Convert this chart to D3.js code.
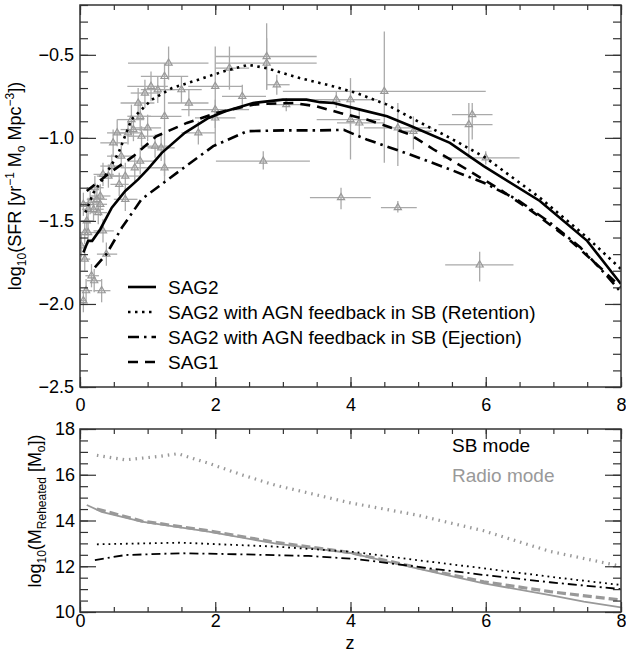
<!DOCTYPE html>
<html>
<head>
<meta charset="utf-8">
<script src="https://cdn.jsdelivr.net/npm/d3@7"></script>
<style>
  body { margin: 0; background: #fff; }
  text { font-family: "Liberation Sans", Arial, Helvetica, sans-serif; }
</style>
</head>
<body>
<div class="view"></div>
<script>
// model curves, top panel: [z, log10 SFR]
var sag2 = [[0.05,-1.69],[0.12,-1.62],[0.18,-1.62],[0.3,-1.55],[0.47,-1.42],[0.67,-1.32],[0.86,-1.25],[1.0,-1.19],[1.21,-1.09],[1.55,-0.97],[1.9,-0.88],[2.15,-0.84],[2.56,-0.79],[3.0,-0.77],[3.35,-0.77],[3.55,-0.785],[3.75,-0.79],[4.14,-0.83],[4.54,-0.87],[4.9,-0.93],[5.47,-1.03],[5.97,-1.17],[6.8,-1.38],[7.5,-1.62],[8.0,-1.88]];
var retention = [[0.08,-1.45],[0.2,-1.33],[0.37,-1.23],[0.57,-1.09],[0.76,-0.89],[1.06,-0.77],[1.36,-0.70],[1.75,-0.65],[2.12,-0.60],[2.49,-0.56],[2.76,-0.58],[3.25,-0.64],[3.75,-0.69],[4.09,-0.73],[4.54,-0.80],[4.9,-0.88],[5.47,-1.0],[6.0,-1.12],[6.8,-1.36],[7.5,-1.6],[8.0,-1.79]];
var ejection = [[0.22,-1.78],[0.39,-1.70],[0.62,-1.54],[0.91,-1.37],[1.27,-1.26],[1.6,-1.16],[1.97,-1.05],[2.47,-0.96],[3.0,-0.955],[3.5,-0.955],[3.9,-0.952],[4.24,-1.01],[4.88,-1.10],[5.47,-1.19],[5.97,-1.27],[6.46,-1.37],[6.95,-1.51],[7.4,-1.66],[7.79,-1.83],[8.0,-1.93]];
var sag1 = [[0.1,-1.32],[0.44,-1.21],[0.79,-1.11],[1.13,-0.99],[1.58,-0.91],[2.02,-0.85],[2.56,-0.80],[2.76,-0.795],[3.16,-0.79],[3.5,-0.81],[3.85,-0.85],[4.24,-0.89],[4.54,-0.93],[4.88,-0.98],[5.23,-1.07],[5.72,-1.19],[6.21,-1.31],[6.71,-1.45],[7.2,-1.6],[7.69,-1.78],[8.0,-1.9]];

// observations: [z, sfr, zmin, zmax, sfrmin, sfrmax]
var obs = [
  [2.76,-0.51,2.0,3.5,-0.71,-0.31],[2.76,-0.55,2.0,3.5,-0.71,-0.40],[2.91,-0.68,2.75,3.1,-0.74,-0.62],
  [2.21,-0.58,2.0,2.5,-0.71,-0.45],[2.40,-0.75,2.1,2.75,-0.82,-0.68],[2.0,-0.69,1.6,2.4,-1.05,-0.45],
  [2.0,-0.83,1.5,2.5,-0.89,-0.77],[2.0,-0.88,1.7,2.3,-0.94,-0.82],[3.05,-0.80,2.8,3.3,-0.84,-0.76],
  [3.79,-0.77,3.0,4.4,-0.82,-0.72],[4.0,-0.77,3.6,4.3,-1.13,-0.64],[4.0,-0.89,3.5,4.44,-0.93,-0.85],
  [4.13,-0.91,3.8,4.5,-0.99,-0.82],[4.5,-0.72,3.0,6.0,-1.15,-0.36],[4.7,-0.94,4.2,5.2,-1.17,-0.79],
  [4.93,-0.96,4.7,5.2,-1.07,-0.87],[5.80,-0.86,5.5,6.1,-1.01,-0.79],[5.75,-0.92,5.3,6.1,-1.12,-0.79],
  [6.0,-1.12,5.37,6.5,-1.16,-1.08],[3.86,-1.36,3.4,4.3,-1.43,-1.30],[4.70,-1.42,4.45,4.98,-1.45,-1.38],
  [5.91,-1.765,5.4,6.41,-1.865,-1.685],[2.71,-1.14,2.01,3.4,-1.19,-1.08],[1.61,-0.79,1.3,1.9,-0.87,-0.71],
  [1.75,-0.97,1.5,2.0,-1.04,-0.90],[1.31,-0.55,0.71,1.9,-0.65,-0.45],[1.25,-0.63,0.9,1.6,-0.70,-0.55],
  [1.05,-0.69,0.7,1.3,-0.78,-0.60],[1.15,-0.71,0.9,1.4,-0.79,-0.63],[0.96,-0.73,0.75,1.2,-0.82,-0.65],
  [1.5,-0.71,1.2,1.8,-0.79,-0.63],[0.86,-0.79,0.6,1.1,-0.88,-0.70],[0.89,-0.87,0.7,1.05,-0.96,-0.78],
  [1.25,-0.87,1.0,1.5,-1.23,-0.65],[1.0,-0.94,0.8,1.2,-1.02,-0.86],[0.76,-0.89,0.55,0.95,-0.98,-0.80],
  [0.71,-0.97,0.5,0.9,-1.04,-0.90],[0.91,-0.99,0.7,1.1,-1.05,-0.93],[1.11,-1.05,0.9,1.3,-1.12,-0.98],
  [1.2,-1.06,1.0,1.4,-1.14,-0.98],[0.89,-1.14,0.7,1.1,-1.22,-1.06],[1.25,-1.18,1.0,1.5,-1.26,-1.10],
  [0.61,-1.11,0.4,0.8,-1.18,-1.04],[0.49,-1.03,0.3,0.7,-1.11,-0.95],[0.67,-1.23,0.45,0.9,-1.31,-1.15],
  [0.81,-1.18,0.6,1.0,-1.26,-1.10],[0.47,-1.17,0.3,0.65,-1.24,-1.10],[0.42,-1.23,0.25,0.6,-1.30,-1.16],
  [0.55,-0.97,0.4,0.7,-1.05,-0.89],[0.79,-0.95,0.6,1.0,-1.02,-0.88],[0.34,-1.22,0.2,0.5,-1.29,-1.15],
  [0.3,-1.35,0.15,0.45,-1.42,-1.28],[0.25,-1.37,0.1,0.4,-1.44,-1.30],[0.15,-1.39,0.05,0.3,-1.46,-1.32],
  [0.2,-1.43,0.1,0.35,-1.50,-1.36],[0.67,-1.37,0.5,0.85,-1.44,-1.30],[0.3,-1.40,0.2,0.4,-1.47,-1.33],
  [0.12,-1.43,0.03,0.22,-1.50,-1.36],[0.05,-1.40,0.0,0.12,-1.47,-1.33],[0.27,-1.45,0.15,0.4,-1.52,-1.38],
  [0.12,-1.57,0.02,0.25,-1.64,-1.50],[0.34,-1.56,0.2,0.5,-1.63,-1.49],[0.07,-1.57,0.0,0.15,-1.64,-1.50],
  [0.39,-1.70,0.25,0.55,-1.77,-1.63],[0.07,-1.73,0.0,0.15,-1.80,-1.66],[0.17,-1.83,0.08,0.28,-1.90,-1.76],
  [0.21,-1.86,0.1,0.32,-1.93,-1.79],[0.32,-1.92,0.2,0.45,-1.99,-1.85],[0.09,-1.92,0.0,0.18,-1.99,-1.85],
  [0.05,-1.98,0.0,0.1,-2.05,-1.93],[0.02,-1.65,0.0,0.08,-1.72,-1.58],[0.1,-1.50,0.02,0.2,-1.57,-1.43],
  [0.22,-1.30,0.1,0.35,-1.37,-1.23],[0.58,-1.28,0.45,0.72,-1.35,-1.21]
];

// bottom panel: [z, log10 M_reheated]
var sbRetention = [[0.25,12.96],[1.5,13.03],[2.88,12.86],[4.07,12.62],[4.98,12.27],[5.97,11.91],[6.95,11.54],[8.0,11.18]];
var sbEjection = [[0.22,12.27],[0.67,12.49],[1.5,12.57],[2.39,12.52],[3.38,12.45],[4.07,12.32],[4.98,11.98],[5.97,11.62],[6.95,11.3],[8.0,11.0]];
var radioRetention = [[0.25,16.85],[0.67,16.65],[1.16,16.8],[1.45,16.92],[1.9,16.5],[2.39,16.0],[2.88,15.55],[3.38,15.2],[4.0,14.77],[4.98,14.24],[5.97,13.55],[6.95,12.65],[8.0,12.0]];
var radioSag2 = [[0.1,14.68],[0.32,14.38],[0.91,13.95],[1.9,13.51],[2.88,13.0],[3.99,12.58],[4.98,11.91],[5.97,11.25],[6.95,10.74],[7.45,10.45],[8.0,10.2]];
var radioSag1 = [[0.25,14.5],[0.91,13.98],[1.9,13.55],[2.88,13.05],[3.99,12.6],[4.98,11.95],[5.97,11.32],[6.95,10.89],[8.0,10.52]];

var legendLabels = ["SAG2", "SAG2 with AGN feedback in SB (Retention)", "SAG2 with AGN feedback in SB (Ejection)", "SAG1"];
var modeLabels = ["SB mode", "Radio mode"];

var width = 626, height = 658;
var svg = d3.select('.view').append('svg')
  .attr('width', width)
  .attr('height', height);

var x = d3.scaleLinear().domain([0, 8]).range([80, 621]);
var yTop = d3.scaleLinear().domain([-2.5, -0.2]).range([387, 5]);
var yBot = d3.scaleLinear().domain([10, 18]).range([612, 429]);

var axisColor = "#333";
var grey = "#999";

function drawFrame(y, yMajor, yMinor, yFmt, xPad, yPad) {
  var top = y.range()[1], bottom = y.range()[0];
  var xMinor = d3.range(0, 8.01, 0.5);
  var xMajor = [0, 2, 4, 6, 8];

  var g = svg.append("g");
  g.append("g").attr("transform", "translate(0," + bottom + ")")
    .call(d3.axisBottom(x).tickValues(xMinor).tickSize(-5).tickFormat(""));
  g.append("g").attr("transform", "translate(0," + top + ")")
    .call(d3.axisTop(x).tickValues(xMinor).tickSize(-5).tickFormat(""));
  g.append("g").attr("transform", "translate(0," + bottom + ")")
    .call(d3.axisBottom(x).tickValues(xMajor).tickSize(-10).tickPadding(xPad).tickFormat(d3.format("d")));
  g.append("g").attr("transform", "translate(0," + top + ")")
    .call(d3.axisTop(x).tickValues(xMajor).tickSize(-10).tickFormat(""));

  g.append("g").attr("transform", "translate(80,0)")
    .call(d3.axisLeft(y).tickValues(yMinor).tickSize(-8).tickFormat(""));
  g.append("g").attr("transform", "translate(621,0)")
    .call(d3.axisRight(y).tickValues(yMinor).tickSize(-8).tickFormat(""));
  g.append("g").attr("transform", "translate(80,0)")
    .call(d3.axisLeft(y).tickValues(yMajor).tickSize(-16).tickPadding(yPad).tickFormat(yFmt));
  g.append("g").attr("transform", "translate(621,0)")
    .call(d3.axisRight(y).tickValues(yMajor).tickSize(-16).tickFormat(""));

  g.selectAll(".domain").remove();
  g.selectAll(".tick line").attr("stroke", axisColor).attr("stroke-width", 1.2);
  g.selectAll(".tick text").attr("fill", "#000").attr("font-size", 18)
    .style("font-family", "'Liberation Sans', Arial, sans-serif");

  g.append("rect")
    .attr("x", 80).attr("y", top)
    .attr("width", 541).attr("height", bottom - top)
    .attr("fill", "none").attr("stroke", axisColor).attr("stroke-width", 1.5);
}

// ---------- top panel ----------
svg.append("clipPath").attr("id", "clipTop")
  .append("rect").attr("x", 80).attr("y", 5).attr("width", 541).attr("height", 382);

var obsG = svg.append("g").attr("clip-path", "url(#clipTop)");
obsG.selectAll(".hbar").data(obs).enter().append("line")
  .attr("x1", function(d) { return x(d[2]); })
  .attr("x2", function(d) { return x(d[3]); })
  .attr("y1", function(d) { return yTop(d[1]); })
  .attr("y2", function(d) { return yTop(d[1]); })
  .attr("stroke", "#aaa").attr("stroke-width", 1.3);
obsG.selectAll(".vbar").data(obs).enter().append("line")
  .attr("x1", function(d) { return x(d[0]); })
  .attr("x2", function(d) { return x(d[0]); })
  .attr("y1", function(d) { return yTop(d[4]); })
  .attr("y2", function(d) { return yTop(d[5]); })
  .attr("stroke", "#aaa").attr("stroke-width", 1.3);
obsG.selectAll(".tri").data(obs).enter().append("path")
  .attr("d", d3.symbol().type(d3.symbolTriangle).size(22))
  .attr("transform", function(d) { return "translate(" + x(d[0]) + "," + yTop(d[1]) + ")"; })
  .attr("fill", "none").attr("stroke", grey).attr("stroke-width", 1.2);

var lineTop = d3.line()
  .x(function(d) { return x(d[0]); })
  .y(function(d) { return yTop(d[1]); });

var topStyles = [
  { data: sag2, dash: null },
  { data: retention, dash: "2.5,4.5" },
  { data: ejection, dash: "11,5,2.5,5" },
  { data: sag1, dash: "10,7" }
];

var curveG = svg.append("g").attr("clip-path", "url(#clipTop)");
topStyles.forEach(function(s) {
  curveG.append("path")
    .datum(s.data)
    .attr("fill", "none")
    .attr("stroke", "#000")
    .attr("stroke-width", 2.6)
    .attr("stroke-dasharray", s.dash)
    .attr("d", lineTop);
});

drawFrame(yTop, [-2.5, -2.0, -1.5, -1.0, -0.5], d3.range(-2.5, -0.19, 0.1), d3.format(".1f"), 11, 6);

// legend
var legend = svg.append("g");
legendLabels.forEach(function(label, i) {
  var ly = 287 + i * 25;
  legend.append("line")
    .attr("x1", 128).attr("x2", 156)
    .attr("y1", ly).attr("y2", ly)
    .attr("stroke", "#000").attr("stroke-width", 2.6)
    .attr("stroke-dasharray", topStyles[i].dash);
  legend.append("text")
    .attr("x", 168).attr("y", ly + 6.8)
    .attr("font-size", 19)
    .text(label);
});

// y label top
var ylab1 = svg.append("text")
  .attr("transform", "translate(21,186) rotate(-90)")
  .attr("text-anchor", "middle")
  .attr("font-size", 18);
ylab1.append("tspan").text("log");
ylab1.append("tspan").attr("font-size", 12).attr("dy", 5).text("10");
ylab1.append("tspan").attr("dy", -5).text("(SFR [yr");
ylab1.append("tspan").attr("font-size", 12).attr("dy", -7).text("−1");
ylab1.append("tspan").attr("dy", 7).text(" M");
ylab1.append("tspan").attr("font-size", 12).attr("dy", 4).text("o");
ylab1.append("tspan").attr("dy", -4).text(" Mpc");
ylab1.append("tspan").attr("font-size", 12).attr("dy", -7).text("−3");
ylab1.append("tspan").attr("dy", 7).text("])");

// ---------- bottom panel ----------
svg.append("clipPath").attr("id", "clipBot")
  .append("rect").attr("x", 80).attr("y", 429).attr("width", 541).attr("height", 183);

var lineBot = d3.line()
  .x(function(d) { return x(d[0]); })
  .y(function(d) { return yBot(d[1]); });

var botStyles = [
  { data: radioSag2, color: grey, width: 1.8, dash: null },
  { data: radioSag1, color: grey, width: 3.2, dash: "9,4" },
  { data: radioRetention, color: grey, width: 3.2, dash: "1.5,5" },
  { data: sbRetention, color: "#000", width: 1.8, dash: "1.8,4" },
  { data: sbEjection, color: "#000", width: 1.8, dash: "9,4,2,4" }
];

var botG = svg.append("g").attr("clip-path", "url(#clipBot)");
botStyles.forEach(function(s) {
  botG.append("path")
    .datum(s.data)
    .attr("fill", "none")
    .attr("stroke", s.color)
    .attr("stroke-width", s.width)
    .attr("stroke-dasharray", s.dash)
    .attr("d", lineBot);
});

drawFrame(yBot, [10, 12, 14, 16, 18], d3.range(10, 18.01, 0.5), d3.format("d"), 2, 5);

svg.append("text").attr("x", 452).attr("y", 451.5).attr("font-size", 19)
  .attr("fill", "#000").text(modeLabels[0]);
svg.append("text").attr("x", 452).attr("y", 481.5).attr("font-size", 19)
  .attr("fill", grey).text(modeLabels[1]);

var ylab2 = svg.append("text")
  .attr("transform", "translate(41,511) rotate(-90)")
  .attr("text-anchor", "middle")
  .attr("font-size", 18);
ylab2.append("tspan").text("log");
ylab2.append("tspan").attr("font-size", 12).attr("dy", 5).text("10");
ylab2.append("tspan").attr("dy", -5).text("(M");
ylab2.append("tspan").attr("font-size", 12).attr("dy", 5).text("Reheated");
ylab2.append("tspan").attr("dy", -5).text(" [M");
ylab2.append("tspan").attr("font-size", 12).attr("dy", 4).text("o");
ylab2.append("tspan").attr("dy", -4).text("])");

svg.append("text")
  .attr("x", 350).attr("y", 649)
  .attr("text-anchor", "middle")
  .attr("font-size", 18)
  .text("z");
</script>
</body>
</html>
